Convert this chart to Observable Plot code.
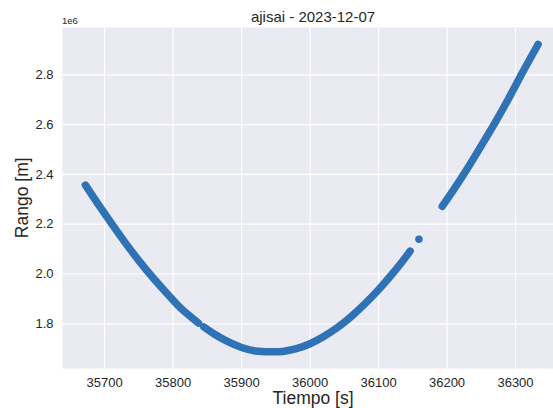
<!DOCTYPE html>
<html>
<head>
<meta charset="utf-8">
<script src="https://cdn.jsdelivr.net/npm/d3@7"></script>
<script src="https://cdn.jsdelivr.net/npm/@observablehq/plot@0.6"></script>
<style>
  html, body { margin: 0; padding: 0; background: #ffffff; }
  #wrap { position: relative; width: 553px; height: 408px; overflow: hidden;
          font-family: "Liberation Sans", Arial, sans-serif; color: #262626; }
  #chart { position: absolute; left: 0; top: 0; }
  .lbl { position: absolute; line-height: 1; white-space: nowrap; color: #262626; }
</style>
</head>
<body>
<div id="wrap">
  <div id="chart"></div>
  <div class="lbl" id="title" style="left:62px; width:502px; top:8.6px; font-size:15px; text-align:center;"></div>
  <div class="lbl" id="offset" style="left:62px; top:16px; font-size:9.5px;"></div>
  <div class="lbl" id="xlabel" style="left:62px; width:502px; top:391.2px; font-size:17.5px; line-height:0.8; text-align:center;"></div>
  <div class="lbl" id="ylabel" style="left:-27px; width:100px; top:188.75px; font-size:17.5px; text-align:center; transform:rotate(-90deg); transform-origin:50% 50%;"></div>
</div>
<script>
// ---- text ----
const titleText = "ajisai - 2023-12-07";
const xLabelText = "Tiempo [s]";
const yLabelText = "Rango [m]";
const offsetText = "1e6";

// ---- ticks ----
const xTicks = [35700, 35800, 35900, 36000, 36100, 36200, 36300];
const yTicks = [1800000, 2000000, 2200000, 2400000, 2600000, 2800000];

// ---- data (time [s], range [m]) ----
const segA_t = [35672, 35690, 35710, 35730, 35750, 35770, 35790, 35810, 35825, 35837];
const segA_r = [2357000, 2283000, 2203000, 2126000, 2054000, 1987000, 1925000, 1866000, 1830000, 1803000];

const segB_t = [35845, 35860, 35880, 35900, 35920, 35942, 35960, 35980, 36000, 36020, 36040, 36060, 36080, 36100, 36120, 36135, 36146];
const segB_r = [1787000, 1759000, 1728000, 1705000, 1691000, 1687500, 1689000, 1700000, 1720000, 1749000, 1785000, 1829000, 1880000, 1937000, 2000000, 2051000, 2092000];

const lone_t = [36159];
const lone_r = [2140000];

const segC_t = [36193, 36210, 36230, 36250, 36270, 36290, 36310, 36333];
const segC_r = [2272000, 2340000, 2425000, 2515000, 2607000, 2705000, 2808000, 2922000];

const color = "#3072b6";

const rows = [];
[["A", segA_t, segA_r], ["B", segB_t, segB_r], ["C", segC_t, segC_r]].forEach(([s, ts, rs]) => {
  ts.forEach((t, i) => rows.push({seg: s, t, r: rs[i]}));
});
const lone = lone_t.map((t, i) => ({t, r: lone_r[i]}));

const chart = Plot.plot({
  width: 553,
  height: 408,
  marginLeft: 62,
  marginRight: 0,
  marginTop: 27,
  marginBottom: 40,
  style: {fontFamily: "Liberation Sans, Arial, sans-serif", fontSize: "13px", color: "#262626", background: "transparent"},
  x: {domain: [35638.5, 36355.5]},
  y: {domain: [1620500, 2990000]},
  marks: [
    Plot.frame({fill: "#eaeaf2", stroke: null}),
    Plot.gridX({ticks: xTicks, stroke: "#ffffff", strokeOpacity: 1, strokeWidth: 1.2}),
    Plot.gridY({ticks: yTicks, stroke: "#ffffff", strokeOpacity: 1, strokeWidth: 1.2}),
    Plot.axisX({ticks: xTicks, tickSize: 0, tickPadding: 9, tickFormat: d => String(d), label: null, fontSize: 13}),
    Plot.axisY({ticks: yTicks, tickSize: 0, tickPadding: 9, tickFormat: d => (d / 1e6).toFixed(1), label: null, fontSize: 13}),
    Plot.line(rows, {x: "t", y: "r", z: "seg", stroke: color, strokeWidth: 7.5,
      strokeLinecap: "round", strokeLinejoin: "round", curve: "natural"}),
    Plot.dot(lone, {x: "t", y: "r", r: 3.75, fill: color, stroke: null})
  ]
});
document.getElementById("chart").appendChild(chart);
document.getElementById("title").textContent = titleText;
document.getElementById("xlabel").textContent = xLabelText;
document.getElementById("ylabel").textContent = yLabelText;
document.getElementById("offset").textContent = offsetText;
</script>
</body>
</html>
